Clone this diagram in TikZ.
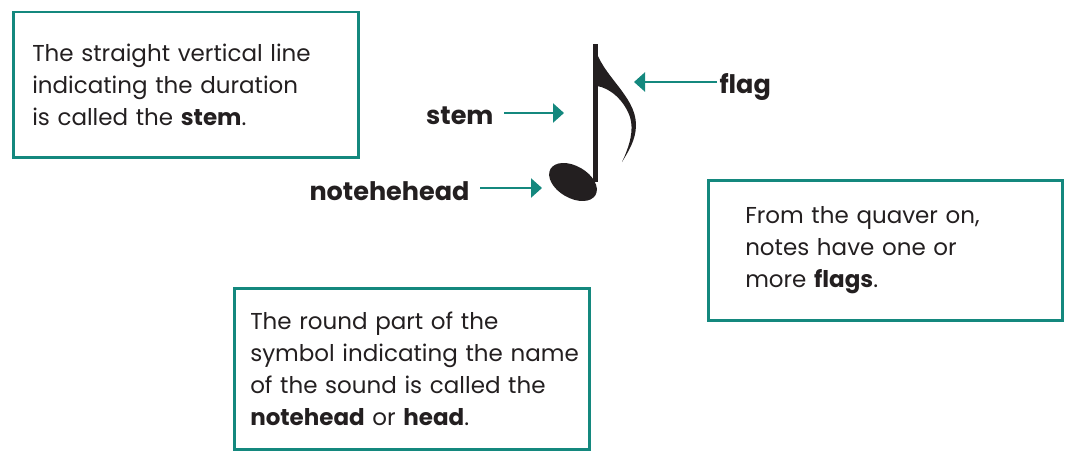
\documentclass[tikz,border=0pt]{standalone}
\usepackage{fontspec}
\setmainfont{Poppins}
\usetikzlibrary{arrows.meta}
\definecolor{teal}{RGB}{20,136,126}
\definecolor{ink}{RGB}{35,31,32}

\begin{document}
\begin{tikzpicture}[x=1pt,y=-1pt,
  font=\fontsize{23}{32}\selectfont, text=ink,
  infobox/.style={draw=teal,line width=2.5pt,anchor=north west,align=left,inner ysep=0pt},
  lbl/.style={font=\fontsize{25.5}{32}\selectfont\bfseries},
  pointer/.style={teal,line width=2.5pt,-{Triangle[length=11pt,width=19pt]}}]
\useasboundingbox (0,0) rectangle (1076,452);
% the boxes
\node[infobox,inner xsep=19pt,text width=307pt,minimum height=145pt] (stembox) at (12,11)
  {The straight vertical line\\indicating the duration\\is called the \textbf{stem}.};
\node[infobox,inner xsep=37pt,text width=280pt,minimum height=140pt] (flagbox) at (707,179)
  {From the quaver on,\\notes have one or\\more \textbf{flags}.};
\node[infobox,inner xsep=16pt,text width=323pt,minimum height=161pt] (headbox) at (233,287)
  {The round part of the\\\mbox{symbol indicating the name}\\of the sound is called the\\\textbf{notehead} or \textbf{head}.};
% the note
\fill[ink] (573,182) ellipse[x radius=26,y radius=16,rotate=-30];
\fill[ink] (593,44) rectangle (597.5,182);
\fill[ink] (594,44) .. controls (600,75) and (636,95) .. (636,125)
  .. controls (636,140) and (628,152) .. (622,162)
  .. controls (630,145) and (634,130) .. (630,117)
  .. controls (624,100) and (610,88) .. (597,86) -- cycle;
\coordinate (stemtip) at (564,113);
\coordinate (headtip) at (542,188);
\coordinate (flagtip) at (634,82);
% labels
\node[lbl,anchor=east] (stem) at (497,116) {stem};
\node[lbl,anchor=east] (head) at (473,191) {notehehead};
\node[lbl,anchor=west] (flag) at (716,87) {flag};
\draw[pointer] (stem.east)+(7,-3) -- (stemtip);
\draw[pointer] (head.east)+(7,-3) -- (headtip);
\draw[pointer] (flag.west)+(1,-5) -- (flagtip);
\end{tikzpicture}
\end{document}
